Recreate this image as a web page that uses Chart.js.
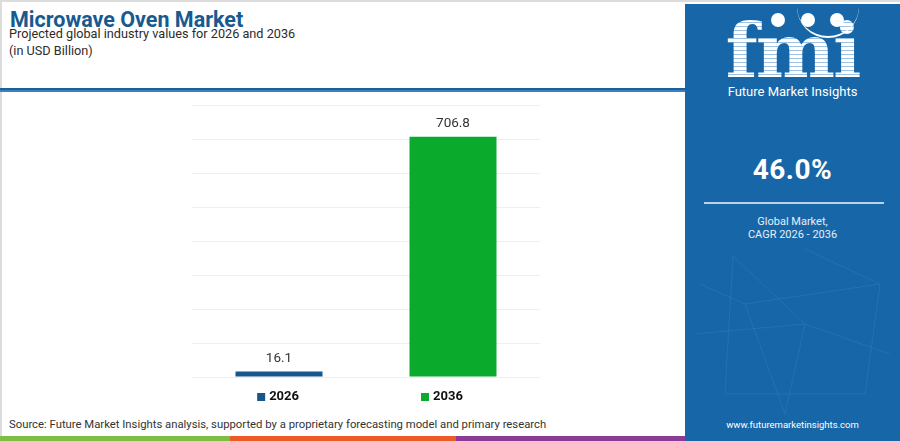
<!DOCTYPE html>
<html>
<head>
<meta charset="utf-8">
<script src="https://cdn.jsdelivr.net/npm/chart.js@4.4.1/dist/chart.umd.min.js"></script>
<style>
  html, body { margin: 0; padding: 0; }
  body {
    width: 900px; height: 441px; position: relative; overflow: hidden;
    background: #ffffff; font-family: Roboto, "Open Sans", sans-serif;
  }
  .frame {
    position: absolute; left: 0; top: 0; width: 898px; height: 439px;
    border-top: 2px solid #dcdcdc; border-left: 2px solid #dcdcdc;
  }
  .title {
    position: absolute; left: 10px; top: 7px; margin: 0;
    font-size: 21.5px; font-weight: 700; color: #175a8f;
  }
  .sub {
    position: absolute; left: 9px; font-size: 12.7px; color: #2b2b2b;
  }
  .rule {
    position: absolute; left: 0; top: 88px; width: 685px; height: 4px;
    background: linear-gradient(#1d5f98 0, #1d5f98 50%, #3a82c0 50%, #3a82c0 100%);
  }
  #wrap { position: absolute; left: 0; top: 95px; width: 685px; height: 320px; }
  .source {
    position: absolute; left: 9px; top: 418px; font-size: 11.3px; color: #333;
  }
  .stripe { position: absolute; top: 436px; height: 5px; }
  .panel {
    position: absolute; left: 685px; top: 4px; width: 215px; height: 437px;
    background: #1766a8; color: #fff; text-align: center; overflow: hidden;
  }
  .logo {
    position: absolute; left: 0; top: 7px; width: 215px;
    font-family: "DejaVu Serif", serif; font-weight: 700; font-size: 75px;
    line-height: 80px; letter-spacing: -2px;
    background: repeating-linear-gradient(#ffffff 0, #ffffff 3px, #9fc2e2 3px, #9fc2e2 4px);
    -webkit-background-clip: text; background-clip: text; color: transparent;
  }
  .dot { position: absolute; width: 14px; height: 14px; border-radius: 50%; background: #fff; top: 9px; }
  .arc {
    position: absolute; left: 112px; top: -2px; width: 62px; height: 34px;
    border-bottom: 2px solid #fff; border-radius: 0 0 40px 40px;
  }
  .brand { position: absolute; left: 0; top: 80px; width: 215px; font-size: 13px; }
  .cagr { position: absolute; left: 0; top: 149px; width: 215px; font-size: 28px; font-weight: 700; letter-spacing: 0.5px; }
  .line { position: absolute; left: 19px; top: 198px; width: 180px; height: 2px; background: #b9d2ea; }
  .note { position: absolute; left: 0; top: 211px; width: 215px; font-size: 11px; line-height: 13px; color: #e6eff8; }
  .url { position: absolute; left: 0; top: 415px; width: 215px; font-size: 9.5px; }
  .net { position: absolute; left: 0; top: 240px; }
</style>
</head>
<body>
<div class="frame"></div>
<h1 class="title">Microwave Oven Market</h1>
<div class="sub" style="top:26px">Projected global industry values for 2026 and 2036</div>
<div class="sub" style="top:43px">(in USD Billion)</div>
<div class="rule"></div>

<div id="wrap"><canvas id="marketChart"></canvas></div>

<div class="source">Source: Future Market Insights analysis, supported by a proprietary forecasting model and primary research</div>
<div class="stripe" style="left:0;width:230px;background:#7dbf44"></div>
<div class="stripe" style="left:230px;width:226px;background:#ec5b27"></div>
<div class="stripe" style="left:456px;width:229px;background:#8b3b93"></div>

<div class="panel">
  <svg class="net" width="215" height="180" stroke="#4f8cc2" stroke-width="0.6" opacity="0.45" fill="none">
    <path d="M48 12 L40 150 M48 12 L120 80 L100 170 M120 5 L195 40 L180 150 M10 90 L120 80 L205 110 M40 150 L180 150 M60 60 L195 40 M15 40 L60 60 L100 170"/>
  </svg>
  <div class="logo">fmi</div>
  <div class="arc"></div>
  <div class="dot" style="left:86px"></div>
  <div class="dot" style="left:116px"></div>
  <div class="dot" style="left:145px"></div>
  <div class="brand">Future Market Insights</div>
  <div class="cagr">46.0%</div>
  <div class="line"></div>
  <div class="note">Global Market,<br>CAGR 2026 - 2036</div>
  <div class="url">www.futuremarketinsights.com</div>
</div>

<script>
document.addEventListener("DOMContentLoaded", function () {
  // data
  const years = ['2026', '2036'];
  const marketValues = [16.1, 706.8];
  const barColors = ['#16578c', '#0aab2c'];
  const yTicks = [0, 100, 200, 300, 400, 500, 600, 700, 800];

  // value labels above each bar
  const valueLabels = {
    id: 'valueLabels',
    afterDatasetsDraw(chart) {
      const ctx = chart.ctx;
      const meta = chart.getDatasetMeta(0);
      ctx.save();
      ctx.font = '13.5px Roboto, sans-serif';
      ctx.fillStyle = '#333333';
      ctx.textAlign = 'center';
      ctx.textBaseline = 'middle';
      meta.data.forEach((bar, i) => {
        ctx.fillText(marketValues[i].toFixed(1), bar.x, bar.y - 13);
      });
      ctx.restore();
    }
  };

  // legend with square markers, spread like the original
  const spreadLegend = {
    id: 'spreadLegend',
    afterDraw(chart) {
      const ctx = chart.ctx;
      const area = chart.chartArea;
      const y = area.bottom + 20;
      const gap = 122;
      ctx.save();
      ctx.font = 'bold 13px Roboto, sans-serif';
      ctx.textBaseline = 'middle';
      const widths = years.map(t => 12 + ctx.measureText(t).width);
      const total = widths.reduce((a, b) => a + b, 0) + gap * (years.length - 1);
      let x = 360 - total / 2;
      years.forEach((t, i) => {
        ctx.fillStyle = barColors[i];
        ctx.fillRect(x, y - 4, 8, 8);
        ctx.fillStyle = '#111111';
        ctx.fillText(t, x + 12, y);
        x += widths[i] + gap;
      });
      ctx.restore();
    }
  };

  const ctx = document.getElementById('marketChart').getContext('2d');
  new Chart(ctx, {
    type: 'bar',
    data: {
      labels: years,
      datasets: [{
        label: 'Market Value',
        data: marketValues,
        backgroundColor: barColors,
        barPercentage: 0.5,
        categoryPercentage: 1.0
      }]
    },
    options: {
      responsive: true,
      maintainAspectRatio: false,
      animation: false,
      layout: { padding: { left: 192, right: 145, top: 10, bottom: 38 } },
      plugins: {
        legend: { display: false },
        tooltip: { enabled: false }
      },
      scales: {
        x: { display: false },
        y: {
          min: 0,
          max: 800,
          afterBuildTicks: axis => { axis.ticks = yTicks.map(v => ({ value: v })); },
          ticks: { display: false },
          border: { display: false },
          grid: { color: '#efefef', lineWidth: 1, drawTicks: false }
        }
      }
    },
    plugins: [valueLabels, spreadLegend]
  });
});
</script>
</body>
</html>
